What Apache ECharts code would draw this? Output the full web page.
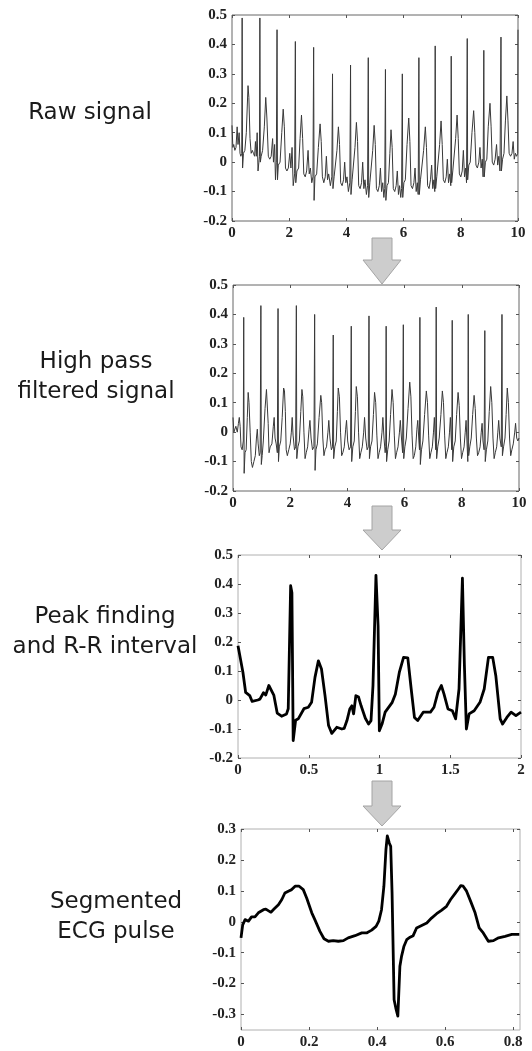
<!DOCTYPE html>
<html>
<head>
<meta charset="utf-8">
<script src="https://cdn.jsdelivr.net/npm/echarts@6/dist/echarts.min.js"></script>
<style>
  html, body { margin: 0; padding: 0; background: #fff; }
  #chart { width: 532px; height: 1051px; }
</style>
</head>
<body>
<div id="chart"></div>
<script>
// panel 1: raw ECG, 0-10 s
var rawSignal = [
  [0, 0.125], [0.03, 0.05], [0.06, 0.06], [0.1, 0.04], [0.14, 0.05], [0.18, 0.12], [0.21, 0.06], [0.25, 0.1], [0.28, 0.03], [0.31, 0.02], [0.34, 0.03],
  [0.355, 0.49], [0.37, -0.02], [0.4, 0.03], [0.45, 0.04], [0.5, 0.1], [0.56, 0.26], [0.59, 0.22], [0.63, 0.08], [0.67, 0.03], [0.71, 0.04], [0.75, 0.03], [0.79, 0.02], [0.82, 0.07], [0.85, 0.02], [0.88, 0.1], [0.91, -0.03], [0.94, 0.0], [0.96, 0.02],
  [0.975, 0.49], [0.99, 0.0], [1.02, 0.02], [1.07, 0.04], [1.13, 0.12], [1.18, 0.22], [1.22, 0.15], [1.27, 0.02], [1.32, 0.01], [1.37, 0.02], [1.42, 0.08], [1.45, 0.0], [1.49, 0.06], [1.52, -0.06], [1.55, 0.0],
  [1.575, 0.45], [1.59, -0.06], [1.62, -0.01], [1.68, 0.0], [1.74, 0.1], [1.79, 0.18], [1.83, 0.12], [1.87, -0.02], [1.92, -0.03], [1.97, -0.02], [2.02, 0.03], [2.06, -0.02], [2.1, 0.05], [2.14, -0.08], [2.19, -0.04],
  [2.215, 0.41], [2.23, -0.07], [2.27, -0.03], [2.33, -0.02], [2.38, 0.08], [2.43, 0.16], [2.47, 0.08], [2.51, -0.04], [2.56, -0.05], [2.61, -0.03], [2.66, 0.04], [2.7, -0.04], [2.74, -0.02], [2.79, -0.07], [2.83, -0.05],
  [2.855, 0.39], [2.87, -0.13], [2.9, -0.05], [2.96, -0.04], [3.02, 0.05], [3.08, 0.13], [3.12, 0.07], [3.16, -0.05], [3.21, -0.07], [3.26, -0.05], [3.3, 0.02], [3.34, -0.06], [3.38, -0.04], [3.44, -0.08], [3.49, -0.05],
  [3.515, 0.3], [3.53, -0.09], [3.57, -0.05], [3.62, -0.05], [3.67, 0.04], [3.72, 0.12], [3.76, 0.06], [3.8, -0.07], [3.85, -0.08], [3.9, -0.06], [3.94, 0.0], [3.98, -0.07], [4.02, -0.05], [4.07, -0.1], [4.12, -0.07],
  [4.145, 0.33], [4.16, -0.11], [4.2, -0.06], [4.25, -0.06], [4.3, 0.05], [4.35, 0.135], [4.39, 0.07], [4.43, -0.08], [4.48, -0.09], [4.53, -0.07], [4.57, 0.0], [4.61, -0.09], [4.65, -0.06], [4.7, -0.11], [4.74, -0.08],
  [4.765, 0.355], [4.78, -0.12], [4.82, -0.07], [4.87, -0.07], [4.92, 0.04], [4.97, 0.125], [5.01, 0.06], [5.05, -0.09], [5.1, -0.1], [5.15, -0.08], [5.19, -0.02], [5.23, -0.1], [5.27, -0.07], [5.31, -0.12], [5.34, -0.09],
  [5.365, 0.315], [5.38, -0.13], [5.42, -0.08], [5.47, -0.07], [5.52, 0.03], [5.56, 0.11], [5.6, 0.05], [5.64, -0.09], [5.69, -0.1], [5.74, -0.08], [5.78, -0.03], [5.82, -0.11], [5.86, -0.08], [5.9, -0.12], [5.93, -0.09],
  [5.955, 0.3], [5.97, -0.12], [6.01, -0.07], [6.06, -0.06], [6.12, 0.06], [6.18, 0.15], [6.22, 0.07], [6.26, -0.08], [6.31, -0.09], [6.36, -0.07], [6.4, -0.02], [6.44, -0.1], [6.48, -0.07], [6.51, -0.11],
  [6.535, 0.355], [6.55, -0.11], [6.59, -0.06], [6.64, -0.06], [6.7, 0.04], [6.76, 0.12], [6.8, 0.05], [6.84, -0.08], [6.89, -0.09], [6.94, -0.06], [6.98, -0.01], [7.02, -0.09], [7.06, -0.06], [7.09, -0.1],
  [7.105, 0.395], [7.12, -0.09], [7.16, -0.05], [7.21, -0.05], [7.26, 0.06], [7.31, 0.14], [7.35, 0.06], [7.39, -0.06], [7.44, -0.07], [7.49, -0.05], [7.53, 0.01], [7.57, -0.07], [7.61, -0.04], [7.65, -0.08],
  [7.665, 0.36], [7.68, -0.07], [7.72, -0.03], [7.77, -0.03], [7.82, 0.08], [7.87, 0.16], [7.91, 0.08], [7.95, -0.04], [8.0, -0.05], [8.05, -0.03], [8.09, 0.04], [8.13, -0.05], [8.17, -0.02], [8.2, -0.07],
  [8.225, 0.42], [8.24, -0.06], [8.28, -0.01], [8.33, 0.0], [8.39, 0.1], [8.45, 0.175], [8.49, 0.1], [8.53, -0.01], [8.58, -0.02], [8.63, 0.0], [8.67, 0.05], [8.71, -0.02], [8.75, 0.01], [8.78, -0.05],
  [8.805, 0.38], [8.82, -0.05], [8.86, 0.0], [8.91, 0.01], [8.96, 0.12], [9.02, 0.2], [9.06, 0.12], [9.1, 0.0], [9.15, -0.01], [9.2, 0.01], [9.25, 0.06], [9.29, -0.01], [9.33, 0.02], [9.37, -0.03],
  [9.405, 0.425], [9.42, -0.03], [9.46, 0.01], [9.51, 0.03], [9.56, 0.14], [9.61, 0.225], [9.65, 0.14], [9.69, 0.03], [9.74, 0.02], [9.79, 0.03], [9.83, 0.07], [9.87, 0.01], [9.91, 0.03], [9.95, 0.02], [9.99, 0.03], [10, 0.45]
]

// panel 2: high pass filtered
var filteredSignal = [
  [0, 0.05], [0.03, 0.0], [0.06, 0.0], [0.1, 0.02], [0.15, 0.0], [0.19, 0.03], [0.22, 0.05], [0.25, 0.02], [0.28, -0.05], [0.32, -0.06], [0.36, -0.03],
  [0.375, 0.39], [0.39, -0.14], [0.42, -0.07], [0.46, -0.06], [0.5, 0.05], [0.53, 0.135], [0.56, 0.1], [0.6, 0.0], [0.64, -0.1], [0.68, -0.12], [0.73, -0.1], [0.78, -0.08], [0.82, -0.02], [0.85, 0.01], [0.88, -0.04], [0.92, -0.08], [0.95, -0.07],
  [0.975, 0.43], [0.99, -0.11], [1.02, -0.08], [1.06, -0.03], [1.12, 0.08], [1.17, 0.145], [1.2, 0.14], [1.23, 0.03], [1.26, -0.07], [1.3, -0.05], [1.36, -0.04], [1.41, 0.02], [1.44, 0.05], [1.47, -0.02], [1.51, -0.04], [1.55, -0.07],
  [1.575, 0.42], [1.59, -0.1], [1.62, -0.05], [1.67, -0.03], [1.72, 0.05], [1.77, 0.15], [1.8, 0.14], [1.83, 0.07], [1.86, -0.06], [1.9, -0.08], [1.95, -0.06], [2.0, -0.04], [2.04, 0.0], [2.07, 0.05], [2.1, -0.01], [2.15, -0.06], [2.19, -0.05],
  [2.215, 0.43], [2.23, -0.09], [2.27, -0.05], [2.32, -0.03], [2.37, 0.07], [2.41, 0.145], [2.44, 0.12], [2.48, 0.0], [2.52, -0.09], [2.56, -0.07], [2.61, -0.05], [2.66, 0.01], [2.69, 0.04], [2.73, -0.02], [2.78, -0.06], [2.83, -0.05],
  [2.855, 0.4], [2.87, -0.13], [2.9, -0.06], [2.95, -0.04], [3.01, 0.05], [3.07, 0.125], [3.1, 0.1], [3.14, -0.02], [3.18, -0.08], [3.22, -0.06], [3.27, -0.05], [3.32, 0.0], [3.35, 0.04], [3.39, -0.02], [3.44, -0.06], [3.48, -0.05],
  [3.505, 0.33], [3.52, -0.09], [3.56, -0.05], [3.61, -0.03], [3.65, 0.07], [3.68, 0.15], [3.72, 0.12], [3.76, 0.0], [3.8, -0.08], [3.84, -0.07], [3.89, -0.05], [3.94, 0.01], [3.97, 0.04], [4.01, -0.03], [4.06, -0.06], [4.11, -0.05],
  [4.135, 0.36], [4.15, -0.1], [4.19, -0.05], [4.24, -0.03], [4.28, 0.07], [4.31, 0.155], [4.35, 0.12], [4.39, 0.0], [4.43, -0.09], [4.47, -0.07], [4.52, -0.05], [4.57, 0.0], [4.6, 0.05], [4.64, -0.02], [4.69, -0.06], [4.73, -0.05],
  [4.755, 0.395], [4.77, -0.09], [4.81, -0.05], [4.86, -0.03], [4.91, 0.06], [4.95, 0.135], [4.99, 0.1], [5.03, -0.01], [5.07, -0.09], [5.11, -0.07], [5.16, -0.05], [5.21, 0.0], [5.24, 0.05], [5.28, -0.02], [5.32, -0.07], [5.34, -0.05],
  [5.355, 0.36], [5.37, -0.1], [5.41, -0.06], [5.46, -0.03], [5.51, 0.06], [5.56, 0.145], [5.6, 0.1], [5.64, -0.01], [5.68, -0.09], [5.72, -0.07], [5.77, -0.05], [5.82, 0.0], [5.85, 0.04], [5.89, -0.02], [5.93, -0.07],
  [5.955, 0.365], [5.97, -0.09], [6.01, -0.05], [6.06, -0.02], [6.12, 0.08], [6.18, 0.17], [6.22, 0.12], [6.26, -0.01], [6.3, -0.09], [6.34, -0.08], [6.39, -0.05], [6.43, 0.01], [6.46, 0.04], [6.5, -0.03], [6.52, -0.06],
  [6.535, 0.39], [6.55, -0.11], [6.59, -0.06], [6.64, -0.03], [6.7, 0.06], [6.76, 0.14], [6.8, 0.1], [6.84, -0.01], [6.88, -0.09], [6.92, -0.07], [6.97, -0.05], [7.01, 0.0], [7.04, 0.05], [7.07, -0.02], [7.09, -0.06],
  [7.105, 0.425], [7.12, -0.09], [7.16, -0.05], [7.21, -0.02], [7.27, 0.06], [7.32, 0.14], [7.36, 0.1], [7.4, -0.01], [7.44, -0.09], [7.48, -0.07], [7.53, -0.05], [7.57, 0.0], [7.6, 0.05], [7.63, -0.02], [7.65, -0.06],
  [7.665, 0.38], [7.68, -0.1], [7.72, -0.05], [7.77, -0.03], [7.82, 0.06], [7.87, 0.135], [7.91, 0.09], [7.95, -0.02], [7.99, -0.09], [8.03, -0.07], [8.08, -0.05], [8.12, 0.0], [8.15, 0.04], [8.18, -0.03], [8.21, -0.1],
  [8.225, 0.4], [8.24, -0.08], [8.28, -0.05], [8.33, -0.02], [8.38, 0.06], [8.43, 0.125], [8.47, 0.08], [8.51, -0.02], [8.55, -0.08], [8.59, -0.07], [8.64, -0.05], [8.68, 0.0], [8.71, 0.03], [8.74, -0.03], [8.78, -0.06],
  [8.805, 0.345], [8.82, -0.1], [8.86, -0.06], [8.91, -0.03], [8.96, 0.07], [9.01, 0.155], [9.05, 0.1], [9.09, -0.02], [9.13, -0.09], [9.17, -0.07], [9.22, -0.05], [9.26, 0.0], [9.29, 0.04], [9.33, -0.02], [9.38, -0.05],
  [9.405, 0.4], [9.42, -0.08], [9.46, -0.05], [9.51, -0.02], [9.55, 0.06], [9.59, 0.15], [9.63, 0.1], [9.67, -0.02], [9.71, -0.08], [9.75, -0.06], [9.8, -0.04], [9.85, 0.0], [9.88, 0.03], [9.92, -0.02], [9.96, -0.03], [10, -0.02]
]

// panel 3: first 2 s, peaks
var peakSignal = [
  [0, 0.187], [0.035, 0.095], [0.054, 0.026], [0.083, 0.015], [0.1, -0.005], [0.14, 0.0], [0.155, 0.003], [0.18, 0.025], [0.196, 0.017], [0.218, 0.05], [0.232, 0.053], [0.253, 0.017],
  [0.277, -0.045], [0.308, -0.056], [0.343, -0.048], [0.355, -0.03], [0.372, 0.394], [0.381, 0.37], [0.39, -0.14], [0.407, -0.07], [0.426, -0.065], [0.44, -0.07], [0.466, -0.03],
  [0.497, -0.025], [0.52, -0.008], [0.544, 0.078], [0.568, 0.135], [0.59, 0.107], [0.615, 0.015], [0.64, -0.088], [0.663, -0.115], [0.698, -0.094], [0.734, -0.1], [0.75, -0.098],
  [0.77, -0.071], [0.79, -0.031], [0.805, -0.02], [0.817, -0.048], [0.833, 0.015], [0.852, 0.01], [0.87, -0.02], [0.9, -0.063], [0.923, -0.083], [0.94, -0.071], [0.954, 0.05],
  [0.975, 0.43], [0.99, 0.256], [0.999, -0.106], [1.018, -0.083], [1.04, -0.042], [1.09, -0.008], [1.112, 0.02], [1.14, 0.095], [1.17, 0.147], [1.2, 0.145], [1.224, 0.038],
  [1.247, -0.06], [1.27, -0.071], [1.309, -0.042], [1.36, -0.042], [1.385, -0.025], [1.413, 0.026], [1.437, 0.05], [1.456, 0.02], [1.484, -0.031], [1.515, -0.037], [1.538, -0.065],
  [1.562, 0.038], [1.586, 0.42], [1.6, 0.12], [1.614, -0.1], [1.633, -0.048], [1.669, -0.037], [1.71, -0.008], [1.74, 0.038], [1.77, 0.147], [1.8, 0.147], [1.822, 0.084],
  [1.853, -0.065], [1.87, -0.083], [1.9, -0.06], [1.93, -0.042], [1.964, -0.054], [2, -0.042]
]

// panel 4: one segmented pulse
var pulseSignal = [
  [0, -0.052], [0.005, -0.01], [0.012, 0.007], [0.022, 0.002], [0.031, 0.016], [0.041, 0.016], [0.051, 0.029], [0.066, 0.039], [0.073, 0.041], [0.08, 0.036], [0.088, 0.031],
  [0.097, 0.041], [0.11, 0.055], [0.12, 0.072], [0.129, 0.093], [0.139, 0.099], [0.149, 0.104], [0.159, 0.115], [0.171, 0.115], [0.183, 0.104], [0.193, 0.077], [0.208, 0.029],
  [0.217, 0.007], [0.232, -0.031], [0.244, -0.055], [0.257, -0.063], [0.271, -0.061], [0.286, -0.063], [0.301, -0.061], [0.315, -0.052], [0.335, -0.045], [0.355, -0.036],
  [0.369, -0.036], [0.384, -0.027], [0.397, -0.015], [0.405, 0.002], [0.413, 0.039], [0.42, 0.115], [0.426, 0.233], [0.43, 0.278], [0.436, 0.254], [0.44, 0.244], [0.444, 0.093],
  [0.45, -0.252], [0.455, -0.279], [0.461, -0.305], [0.467, -0.144], [0.472, -0.111], [0.479, -0.079], [0.487, -0.058], [0.497, -0.05], [0.506, -0.045], [0.516, -0.02],
  [0.531, -0.012], [0.546, -0.004], [0.56, 0.012], [0.575, 0.026], [0.589, 0.037], [0.604, 0.05], [0.616, 0.072], [0.629, 0.091], [0.639, 0.106], [0.646, 0.117], [0.653, 0.115],
  [0.663, 0.099], [0.675, 0.066], [0.688, 0.029], [0.7, -0.02], [0.712, -0.036], [0.727, -0.063], [0.742, -0.061], [0.757, -0.052], [0.776, -0.047], [0.796, -0.041], [0.818, -0.041]
]

var secTicks = [0, 2, 4, 6, 8, 10]
var peakTicks = [0, 0.5, 1, 1.5, 2]
var pulseTicks = [0, 0.2, 0.4, 0.6, 0.8]
var ampTicks = [-0.2, -0.1, 0, 0.1, 0.2, 0.3, 0.4, 0.5]
var pulseAmpTicks = [-0.3, -0.2, -0.1, 0, 0.1, 0.2, 0.3]
var labels = [
  ['Raw signal'],
  ['High pass', 'filtered signal'],
  ['Peak finding', 'and R-R interval'],
  ['Segmented', 'ECG pulse']
]

var panels = [
  {grid: {left: 232, top: 15, width: 286, height: 206}, x: [0, 10], y: [-0.2, 0.5], xt: secTicks, yt: ampTicks, data: rawSignal, box: '#666', lw: 1, lc: '#383838', label: {x: 90, y: 113}},
  {grid: {left: 233, top: 285, width: 286, height: 206}, x: [0, 10], y: [-0.2, 0.5], xt: secTicks, yt: ampTicks, data: filteredSignal, box: '#666', lw: 1, lc: '#383838', label: {x: 96, y: 377}},
  {grid: {left: 238, top: 555, width: 283, height: 203}, x: [0, 2], y: [-0.2, 0.5], xt: peakTicks, yt: ampTicks, data: peakSignal, box: '#b0b0b0', lw: 2.8, lc: '#000', label: {x: 105, y: 632}},
  {grid: {left: 241, top: 829, width: 279, height: 201}, x: [0, 0.82], y: [-0.35, 0.3], xt: pulseTicks, yt: pulseAmpTicks, data: pulseSignal, box: '#b0b0b0', lw: 2.8, lc: '#000', label: {x: 116, y: 917}}
]

var tickFont = {fontFamily: 'Liberation Serif', fontSize: 15, fontWeight: 'bold', color: '#222'}

var option = {grid: [], xAxis: [], yAxis: [], series: [], graphic: [], animation: false}
for (var i = 0; i < panels.length; i++) {
  var p = panels[i]
  option.grid.push({left: p.grid.left, top: p.grid.top, width: p.grid.width, height: p.grid.height, show: true, borderColor: p.box, borderWidth: 1})
  // bottom / left with labels, top / right only ticks
  var sides = [['bottom', 'left', true], ['top', 'right', false]]
  for (var s = 0; s < sides.length; s++) {
    option.xAxis.push({
      type: 'value', gridIndex: i, position: sides[s][0], min: p.x[0], max: p.x[1],
      axisLine: {show: false, onZero: false}, splitLine: {show: false},
      axisTick: {show: true, inside: true, length: 3, customValues: p.xt, lineStyle: {color: '#555'}},
      axisLabel: {show: sides[s][2], margin: 5, customValues: p.xt, fontFamily: tickFont.fontFamily, fontSize: tickFont.fontSize, fontWeight: tickFont.fontWeight, color: tickFont.color}
    })
    option.yAxis.push({
      type: 'value', gridIndex: i, position: sides[s][1], min: p.y[0], max: p.y[1],
      axisLine: {show: false, onZero: false}, splitLine: {show: false},
      axisTick: {show: true, inside: true, length: 3, customValues: p.yt, lineStyle: {color: '#555'}},
      axisLabel: {show: sides[s][2], margin: 5, customValues: p.yt, fontFamily: tickFont.fontFamily, fontSize: tickFont.fontSize, fontWeight: tickFont.fontWeight, color: tickFont.color}
    })
  }
  option.series.push({
    type: 'line', xAxisIndex: i * 2, yAxisIndex: i * 2, data: p.data,
    showSymbol: false, symbol: 'none', clip: true,
    lineStyle: {color: p.lc, width: p.lw, join: 'round'}
  })
  var lines = labels[i]
  for (var k = 0; k < lines.length; k++) {
    option.graphic.push({
      type: 'text', x: p.label.x, y: p.label.y + (k - (lines.length - 1) / 2) * 30,
      style: {text: lines[k], fontFamily: 'DejaVu Sans', fontSize: 23, fill: '#1a1a1a', align: 'center', verticalAlign: 'middle'}
    })
  }
}

// block arrows between panels
var arrowTops = [[238, 260, 284], [506, 530, 550], [781, 806, 826]]
for (var a = 0; a < arrowTops.length; a++) {
  var t = arrowTops[a]
  option.graphic.push({
    type: 'polygon', z: 100,
    shape: {points: [[372, t[0]], [392, t[0]], [392, t[1]], [401, t[1]], [382, t[2]], [363, t[1]], [372, t[1]]]},
    style: {fill: '#cdcdcd', stroke: '#a4a4a4', lineWidth: 1}
  })
}

var myChart = echarts.init(document.getElementById('chart'))
myChart.setOption(option)
</script>
</body>
</html>
